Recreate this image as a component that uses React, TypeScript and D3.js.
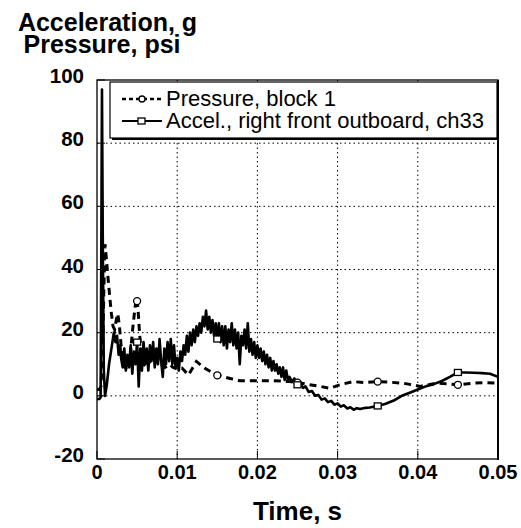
import React from "react";
import * as d3 from "d3";

const xTicks = [0, 0.01, 0.02, 0.03, 0.04, 0.05];
const xTickLabels = ["0", "0.01", "0.02", "0.03", "0.04", "0.05"];
const yTicks = [-20, 0, 20, 40, 60, 80, 100];
const yTickLabels = ["-20", "0", "20", "40", "60", "80", "100"];
const seriesNames = ["Pressure, block 1", "Accel., right front outboard, ch33"];
const yTitleLines = ["Acceleration, g", "Pressure, psi"];
const xTitle = "Time, s";
const markerTimesMs = [5, 15, 25, 35, 45];

const pressureTimeMs = [
  0, 0.3, 0.5, 0.7, 0.85, 1.0, 1.15, 1.35, 1.6, 1.8, 2.0, 2.2, 2.4, 2.6, 2.8, 3.0, 3.2, 3.5, 3.8,
  4.1, 4.4, 4.7, 4.9, 5.0, 5.1, 5.3, 5.5, 5.8, 6.2, 6.6, 7.0, 7.5, 8.0, 8.5, 9.0, 9.5, 10.0,
  10.6, 11.4, 12.4, 13.4, 14.9, 15.0, 16.6, 17.8, 19.9, 22.0, 24.0, 25.0, 26.1, 27.8, 29.0,
  30.3, 31.9, 33.5, 35.0, 36.6, 38.2, 40.3, 42.3, 43.8, 45.0, 46.9, 48.5, 50.0,
];
const pressureValue = [
  2, 2, 3, 14, 33, 48, 44, 38, 31, 26, 22, 21, 24, 26, 22, 16, 12, 9, 8,
  11, 20, 27, 31, 30, 28, 20, 14, 10, 9, 11, 13, 12, 10, 9, 10, 9, 8.5,
  8.8, 6.6, 10.9, 8.8, 6.6, 6.5, 5.5, 4.8, 4.8, 4.8, 4.5, 4.2, 3.7, 3, 2.4,
  3.5, 4.5, 4.2, 4.5, 4.3, 4, 3, 4, 3.8, 3.5, 4, 4.2, 4,
];

const accelTimeMs = [
  0, 0.3, 0.45, 0.55, 0.62, 0.72, 0.85, 1.0, 1.2, 1.5, 1.8, 2.1, 2.3, 2.5, 2.7, 2.9,
  3.0, 3.2, 3.4, 3.6, 3.8, 4.0, 4.2, 4.4, 4.6, 4.8, 5.0, 5.2, 5.4, 5.6, 5.8,
  6.0, 6.2, 6.4, 6.6, 6.8, 7.0, 7.2, 7.4, 7.6, 7.8, 8.0, 8.2, 8.4, 8.6, 8.8,
  9.0, 9.2, 9.4, 9.6, 9.8, 10.0, 10.2, 10.4, 10.6, 10.8, 11.0, 11.2, 11.4, 11.6, 11.8,
  12.0, 12.2, 12.4, 12.6, 12.8, 13.0, 13.2, 13.4, 13.6, 13.8, 14.0, 14.2, 14.4, 14.6, 14.8,
  15.0, 15.2, 15.4, 15.6, 15.8, 16.0, 16.2, 16.4, 16.6, 16.8, 17.0, 17.2, 17.4, 17.6, 17.8,
  18.0, 18.2, 18.4, 18.6, 18.8, 19.0, 19.2, 19.4, 19.6, 19.8, 20.0, 20.2, 20.4, 20.6, 20.8,
  21.0, 21.2, 21.4, 21.6, 21.8, 22.0, 22.2, 22.4, 22.6, 22.8, 23.0, 23.2, 23.4, 23.6, 23.8,
  24.0, 24.3, 24.6, 25.0, 25.3, 25.7, 26.0, 26.4, 26.8, 27.2, 27.6, 28.0, 28.4, 28.8, 29.2,
  29.6, 30.0, 30.4, 30.8, 31.2, 31.6, 32.0, 32.4, 32.8, 33.5, 34.0, 35.0, 36.0, 37.0, 38.0,
  39.0, 40.0, 41.0, 42.0, 43.0, 44.0, 45.0, 46.0, 47.0, 48.0, 49.0, 50.0,
];
const accelValue = [
  -1, -1, -0.5, 55, 97, 50, 8, 0, 3, 10, 15, 20, 17, 19, 13, 16,
  12, 9, 15, 8, 13, 9, 16, 7, 14, 10, 17, 3, 15, 8, 17,
  10, 15, 8, 16, 11, 17, 9, 15, 10, 18, 11, 6, 15, 10, 17,
  11, 18, 10, 16, 9, 12, 8, 14, 11, 16, 13, 19, 14, 20, 16,
  21, 17, 22, 19, 23, 20, 25, 22, 27, 21, 25, 20, 24, 19, 23,
  18, 23, 17, 22, 16, 22, 15, 21, 17, 23, 16, 21, 15, 20, 10,
  19, 16, 21, 15, 23, 14, 18, 13, 17, 12, 16, 12, 15, 11, 14,
  10, 13, 9, 12, 8, 11, 8, 10, 7, 9, 6, 9, 5, 8, 5,
  6, 4.5, 5.5, 3.5, 4.2, 2.5, 3, 1.2, 1.5, 0, 0.3, -1.2, -0.8, -2, -1.6,
  -2.8, -2.4, -3.4, -3, -4, -3.6, -4.4, -3.9, -4.2, -3.8, -3.7, -3.2, -2.5, -1.5, 0,
  1, 2, 3, 3.7, 4.7, 6, 7.4, 7.4, 7.3, 7.2, 7, 6,
];

const W = 521;
const H = 528;
const left = 97;
const right = 498;
const top = 80;
const bottom = 459;

export default function App() {
  const x = d3.scaleLinear().domain([0, 0.05]).range([left, right]);
  const y = d3.scaleLinear().domain([-20, 100]).range([bottom, top]);

  const pressure = pressureTimeMs.map((t, i) => ({ t: t / 1000, v: pressureValue[i] }));
  const accel = accelTimeMs.map((t, i) => ({ t: t / 1000, v: accelValue[i] }));

  const line = d3
    .line<{ t: number; v: number }>()
    .x((d) => x(d.t))
    .y((d) => y(d.v));

  const pMarkers = markerTimesMs
    .map((m) => pressure.find((d) => Math.abs(d.t * 1000 - m) < 1e-6))
    .filter(Boolean) as { t: number; v: number }[];
  const aMarkers = markerTimesMs
    .map((m) => accel.find((d) => Math.abs(d.t * 1000 - m) < 1e-6))
    .filter(Boolean) as { t: number; v: number }[];

  const font = "'Liberation Sans', Arial, Helvetica, sans-serif";

  const legX = 110;
  const legY = 82;
  const legW = 387;
  const legH = 56;

  return (
    <svg
      width={W}
      height={H}
      style={{ position: "absolute", left: 0, top: 0, background: "#fff" }}
      fontFamily={font}
    >
      <rect x={0} y={0} width={W} height={H} fill="#fff" />
      <defs>
        <clipPath id="plotclip">
          <rect x={left} y={top} width={right - left} height={bottom - top} />
        </clipPath>
      </defs>

      {/* grid */}
      {xTicks.slice(1, -1).map((t) => (
        <line
          key={"gx" + t}
          x1={x(t)}
          x2={x(t)}
          y1={top}
          y2={bottom}
          stroke="#000"
          strokeWidth={1}
          strokeDasharray="1.5,3"
        />
      ))}
      {yTicks.slice(1, -1).map((v) => (
        <line
          key={"gy" + v}
          x1={left}
          x2={right}
          y1={y(v)}
          y2={y(v)}
          stroke="#000"
          strokeWidth={1}
          strokeDasharray="1.5,3"
        />
      ))}

      {/* ticks */}
      {xTicks.map((t) => (
        <line key={"tx" + t} x1={x(t)} x2={x(t)} y1={bottom} y2={bottom - 8} stroke="#000" strokeWidth={1} />
      ))}
      {yTicks.map((v) => (
        <line key={"ty" + v} x1={left} x2={left + 8} y1={y(v)} y2={y(v)} stroke="#000" strokeWidth={1} />
      ))}

      {/* series */}
      <g clipPath="url(#plotclip)">
        <path d={line(pressure) || ""} fill="none" stroke="#000" strokeWidth={3} strokeDasharray="7,5" />
        <path d={line(accel) || ""} fill="none" stroke="#000" strokeWidth={2.6} strokeLinejoin="round" />
        {pMarkers.map((d, i) => (
          <circle key={"pm" + i} cx={x(d.t)} cy={y(d.v)} r={3.5} fill="#fff" stroke="#000" strokeWidth={1.3} />
        ))}
        {aMarkers.map((d, i) => (
          <rect
            key={"am" + i}
            x={x(d.t) - 3.5}
            y={y(d.v) - 3}
            width={7}
            height={6}
            fill="#fff"
            stroke="#000"
            strokeWidth={1.3}
          />
        ))}
      </g>

      {/* frame */}
      <rect x={left} y={top} width={right - left} height={bottom - top} fill="none" stroke="#000" strokeWidth={1.3} />
      <line x1={right} x2={right} y1={top} y2={bottom + 1} stroke="#000" strokeWidth={2} />

      {/* legend */}
      <rect x={legX} y={legY} width={legW} height={legH} fill="#fff" stroke="#000" strokeWidth={1.2} />
      <line x1={legX + 2} x2={legX + legW + 1} y1={legY + legH + 1} y2={legY + legH + 1} stroke="#000" strokeWidth={2} />
      <line x1={legX + legW + 1} x2={legX + legW + 1} y1={legY + 2} y2={legY + legH + 2} stroke="#000" strokeWidth={2} />
      <line x1={122} x2={162} y1={99} y2={99} stroke="#000" strokeWidth={2.5} strokeDasharray="4,3" />
      <circle cx={142} cy={99} r={3} fill="#fff" stroke="#000" strokeWidth={1.3} />
      <line x1={122} x2={162} y1={121} y2={121} stroke="#000" strokeWidth={2} />
      <rect x={138} y={118} width={7} height={6} fill="#fff" stroke="#000" strokeWidth={1.3} />
      <text x={166} y={106} fontSize={22}>
        {seriesNames[0]}
      </text>
      <text x={166} y={128} fontSize={22}>
        {seriesNames[1]}
      </text>

      {/* axis labels */}
      {xTicks.map((t, i) => (
        <text key={"xl" + t} x={x(t)} y={479} fontSize={20} fontWeight="bold" textAnchor="middle">
          {xTickLabels[i]}
        </text>
      ))}
      {yTicks.map((v, i) => (
        <text key={"yl" + v} x={84} y={y(v) + 3} fontSize={20.5} fontWeight="bold" textAnchor="end">
          {yTickLabels[i]}
        </text>
      ))}

      <text x={107.5} y={31} fontSize={25} fontWeight="bold" textAnchor="middle">
        {yTitleLines[0]}
      </text>
      <text x={102} y={53} fontSize={25} fontWeight="bold" textAnchor="middle">
        {yTitleLines[1]}
      </text>
      <text x={297.5} y={520} fontSize={26} fontWeight="bold" textAnchor="middle">
        {xTitle}
      </text>
    </svg>
  );
}
